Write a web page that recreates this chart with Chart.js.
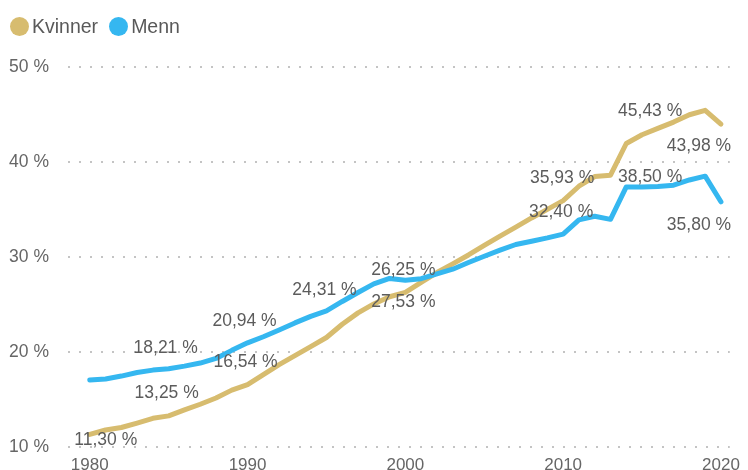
<!DOCTYPE html>
<html>
<head>
<meta charset="utf-8">
<script src="https://cdn.jsdelivr.net/npm/chart.js@4.4.1/dist/chart.umd.min.js"></script>
<style>
  html, body { margin: 0; padding: 0; background: #fff; overflow: hidden; }
  #wrap { position: relative; width: 748px; height: 480px; }
  #legend {
    position: absolute; left: 10px; top: 15px;
    display: flex; align-items: center;
    font: 19.5px "Liberation Sans", Arial, sans-serif; color: #595959;
  }
  .item { display: flex; align-items: center; margin-right: 11px; }
  .dot { width: 19px; height: 19px; border-radius: 50%; margin-right: 3px; }
</style>
</head>
<body>
<div id="wrap">
  <canvas id="chart" width="748" height="480"></canvas>
  <div id="legend"></div>
</div>
<script>
const years = [
  1980, 1981, 1982, 1983, 1984, 1985, 1986, 1987, 1988, 1989,
  1990, 1991, 1992, 1993, 1994, 1995, 1996, 1997, 1998, 1999,
  2000, 2001, 2002, 2003, 2004, 2005, 2006, 2007, 2008, 2009,
  2010, 2011, 2012, 2013, 2014, 2015, 2016, 2017, 2018, 2019, 2020
];

const kvinner = [
  11.30, 11.76, 12.02, 12.49, 12.99, 13.25, 13.88, 14.47, 15.13, 15.96,
  16.54, 17.60, 18.65, 19.60, 20.55, 21.50, 22.90, 24.10, 25.04, 25.80,
  26.25, 27.30, 28.35, 29.26, 30.20, 31.20, 32.19, 33.13, 34.10, 35.00,
  35.93, 37.44, 38.46, 38.60, 41.94, 42.86, 43.53, 44.20, 44.97, 45.43, 43.98
];

const menn = [
  17.02, 17.13, 17.44, 17.81, 18.07, 18.21, 18.49, 18.81, 19.30, 20.15,
  20.94, 21.58, 22.29, 23.04, 23.73, 24.31, 25.30, 26.24, 27.15, 27.73,
  27.53, 27.70, 28.20, 28.70, 29.40, 30.06, 30.70, 31.30, 31.65, 32.00,
  32.40, 33.90, 34.28, 33.95, 37.37, 37.37, 37.41, 37.55, 38.10, 38.50, 35.80
];

const yTicks = [10, 20, 30, 40, 50];
const xTicks = [1980, 1990, 2000, 2010, 2020];

const gold = "#d7bc6f";
const blue = "#35b7f0";
const font = "'Liberation Sans', Arial, sans-serif";

// which points get a value label, and where the text sits relative to the point
const valueLabels = [
  { ds: 0, year: 1980, dx: 16,  dy: 6 },
  { ds: 0, year: 1985, dx: -2,  dy: -23 },
  { ds: 1, year: 1985, dx: -3,  dy: -21 },
  { ds: 0, year: 1990, dx: -2,  dy: -22 },
  { ds: 1, year: 1990, dx: -3,  dy: -22 },
  { ds: 1, year: 1995, dx: -2,  dy: -21 },
  { ds: 0, year: 2000, dx: -2,  dy: -22 },
  { ds: 1, year: 2000, dx: -2,  dy: 22 },
  { ds: 0, year: 2010, dx: -1,  dy: -22 },
  { ds: 1, year: 2010, dx: -2,  dy: -22 },
  { ds: 0, year: 2019, dx: -55, dy: 1 },
  { ds: 1, year: 2019, dx: -55, dy: 1 },
  { ds: 0, year: 2020, dx: -22, dy: 22 },
  { ds: 1, year: 2020, dx: -22, dy: 23 }
];

function pct(v) {
  return v.toFixed(2).replace(".", ",") + " %";
}

function points(values) {
  return years.map((yr, i) => ({ x: yr, y: values[i] }));
}

const labelPlugin = {
  id: "valueLabels",
  afterDatasetsDraw(chart) {
    const ctx = chart.ctx;
    const xs = chart.scales.x, ys = chart.scales.y;
    ctx.save();
    ctx.font = "17.5px " + font;
    ctx.fillStyle = "#5c5c5c";
    ctx.textAlign = "center";
    ctx.textBaseline = "middle";
    valueLabels.forEach(l => {
      const i = years.indexOf(l.year);
      const v = chart.data.datasets[l.ds].data[i].y;
      const px = xs.getPixelForValue(l.year) + l.dx;
      const py = ys.getPixelForValue(v) + l.dy;
      ctx.fillText(pct(v), px, py);
    });
    ctx.restore();
  }
};

const chart = new Chart(document.getElementById("chart"), {
  type: "line",
  data: {
    datasets: [
      {
        label: "Kvinner",
        data: points(kvinner),
        borderColor: gold,
        backgroundColor: gold,
        order: 1
      },
      {
        label: "Menn",
        data: points(menn),
        borderColor: blue,
        backgroundColor: blue,
        order: 0
      }
    ]
  },
  options: {
    responsive: false,
    animation: false,
    layout: { padding: { top: 67, right: 11, left: 0, bottom: 0 } },
    elements: {
      point: { radius: 0, hoverRadius: 0 },
      line: { borderWidth: 5, tension: 0, borderCapStyle: "round", borderJoinStyle: "round" }
    },
    plugins: {
      legend: { display: false },
      tooltip: { enabled: false }
    },
    scales: {
      x: {
        type: "linear",
        min: 1978.62,
        max: 2020.56,
        afterBuildTicks: s => { s.ticks = xTicks.map(v => ({ value: v })); },
        afterFit: s => { s.height = 480 - 446.7; },
        grid: { display: false, drawTicks: false },
        border: { display: false },
        ticks: {
          padding: 8,
          maxRotation: 0,
          color: "#666",
          font: { family: font, size: 17 },
          callback: v => String(v)
        }
      },
      y: {
        min: 10,
        max: 50,
        afterBuildTicks: s => { s.ticks = yTicks.map(v => ({ value: v })); },
        afterFit: s => { s.width = 68; },
        grid: { color: "#c4c4c4", lineWidth: 2, drawTicks: false },
        border: { display: false, dash: [2, 9] },
        ticks: {
          padding: 19,
          color: "#666",
          font: { family: font, size: 17.5 },
          callback: v => v + " %"
        }
      }
    }
  },
  plugins: [labelPlugin]
});

// legend built from the datasets
const legend = document.getElementById("legend");
chart.data.datasets.forEach(ds => {
  const item = document.createElement("div");
  item.className = "item";
  const dot = document.createElement("span");
  dot.className = "dot";
  dot.style.background = ds.borderColor;
  const txt = document.createElement("span");
  txt.textContent = ds.label;
  item.appendChild(dot);
  item.appendChild(txt);
  legend.appendChild(item);
});
</script>
</body>
</html>
